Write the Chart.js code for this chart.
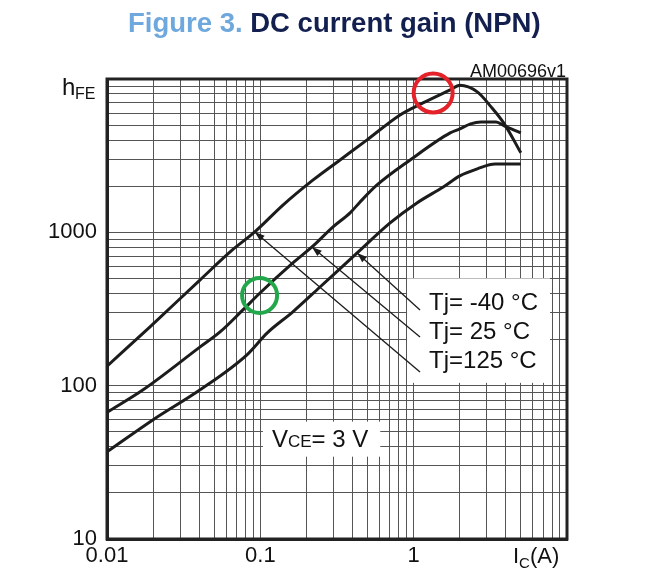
<!DOCTYPE html>
<html>
<head>
<meta charset="utf-8">
<script src="https://cdn.jsdelivr.net/npm/chart.js@4.4.0/dist/chart.umd.min.js"></script>
<style>
html, body { margin: 0; padding: 0; background: #fff; }
#wrap { position: relative; width: 654px; height: 580px; }
#gainChart { position: absolute; left: 0; top: 0; }
#title { position: absolute; left: 128px; top: 8px; white-space: nowrap;
  font: bold 27.5px "Liberation Sans", Arial, sans-serif; line-height: 30px; }
#title .fig { color: #6fa8dc; }
#title .txt { color: #13204f; }
</style>
</head>
<body>
<div id="wrap">
  <canvas id="gainChart" width="654" height="580"></canvas>
  <div id="title"><span class="fig">Figure 3.</span> <span class="txt">DC current gain (NPN)</span></div>
</div>
<script>
// Tj = 125 °C (upper curve)
const icHot  = [0.01, 0.019, 0.0405, 0.066, 0.092, 0.141, 0.221, 0.331, 0.497, 0.815, 1.15, 1.73, 2.0, 2.6, 3.2, 3.9, 5.0];
const hfeHot = [134, 241, 490, 770, 1006, 1510, 2197, 2966, 4010, 5830, 6980, 8490, 9100, 8240, 6580, 5100, 3300];
// Tj = 25 °C (middle curve)
const icRoom  = [0.01, 0.0172, 0.0405, 0.0546, 0.077, 0.0995, 0.163, 0.221, 0.298, 0.385, 0.447, 0.577, 0.949, 1.73, 2.0, 2.35, 2.75, 3.45, 3.9, 5.0];
const hfeRoom = [67, 94, 179, 224, 312, 402, 631, 815, 1085, 1339, 1578, 2037, 2966, 4450, 4730, 5100, 5250, 5250, 4950, 4450];
// Tj = -40 °C (lower curve)
const icCold  = [0.01, 0.020, 0.0405, 0.0818, 0.111, 0.163, 0.245, 0.428, 0.702, 1.05, 1.56, 2.0, 2.6, 3.4, 5.0];
const hfeCold = [37, 60, 94, 159, 221, 303, 440, 734, 1152, 1555, 1977, 2335, 2596, 2790, 2790];

const xTickLabels = ['0.01', '0.1', '1'];
const yTickLabels = ['10', '100', '1000'];
const tempLabels = ['Tj= -40 \u00B0C', 'Tj= 25 \u00B0C', 'Tj=125 \u00B0C'];

// where the arrows of each label touch its curve (-40, 25, 125)
const arrowTips = [[0.428, 734], [0.217, 803], [0.092, 1006]];
const arrowTails = [[1.10, 312], [1.10, 208], [1.10, 123]];
const labelAnchor = { x: 1.26, y: [344, 222, 143] };
const vceAnchor = { x: 0.119, y: 40 };
const circles = [
  { x: 1.34, y: 8110, r: 19.5, color: '#e4222a' },
  { x: 0.0989, y: 387, r: 17.5, color: '#22a84a' }
];

const FONT = '"Liberation Sans", Arial, sans-serif';

function logTicks(min, max) {
  const t = [];
  for (let d = min; d < max * 0.999; d *= 10)
    for (let m = 1; m < 10; m++) t.push(+(d * m).toPrecision(3));
  t.push(max);
  return t;
}

function toPts(xs, ys) {
  return xs.map((v, i) => ({ x: v, y: ys[i] }));
}

const curve = (data) => ({
  data: data,
  borderColor: '#1c1c1c',
  borderWidth: 3,
  pointRadius: 0,
  fill: false,
  cubicInterpolationMode: 'monotone'
});

function arrow(ctx, x1, y1, x2, y2) {
  const a = Math.atan2(y2 - y1, x2 - x1);
  ctx.beginPath();
  ctx.moveTo(x1, y1);
  ctx.lineTo(x2, y2);
  ctx.stroke();
  ctx.beginPath();
  ctx.moveTo(x2, y2);
  ctx.lineTo(x2 - 10 * Math.cos(a) + 3.5 * Math.sin(a), y2 - 10 * Math.sin(a) - 3.5 * Math.cos(a));
  ctx.lineTo(x2 - 10 * Math.cos(a) - 3.5 * Math.sin(a), y2 - 10 * Math.sin(a) + 3.5 * Math.cos(a));
  ctx.closePath();
  ctx.fill();
}

const notes = {
  id: 'notes',
  beforeDatasetsDraw(chart) {
    const { ctx, chartArea: ca, scales: { x, y } } = chart;
    ctx.save();
    ctx.textBaseline = 'middle';
    ctx.fillStyle = '#111';

    // frame of the plot
    ctx.strokeStyle = '#222';
    ctx.lineWidth = 3;
    ctx.strokeRect(ca.left, ca.top, ca.right - ca.left, ca.bottom - ca.top);

    // temperature label box
    ctx.font = '24px ' + FONT;
    const lx = x.getPixelForValue(labelAnchor.x);
    const ly = labelAnchor.y.map(v => y.getPixelForValue(v));
    const w = Math.max(...tempLabels.map(t => ctx.measureText(t).width));
    ctx.fillStyle = '#fff';
    ctx.fillRect(lx - 22, ly[0] - 25, w + 34, ly[2] - ly[0] + 46);
    ctx.fillStyle = '#111';
    tempLabels.forEach((t, i) => ctx.fillText(t, lx, ly[i]));

    // VCE box
    const vx = x.getPixelForValue(vceAnchor.x);
    const vy = y.getPixelForValue(vceAnchor.y);
    ctx.textBaseline = 'alphabetic';
    ctx.font = '24px ' + FONT;
    const wV = ctx.measureText('V').width;
    const wEq = ctx.measureText('= 3 V').width;
    ctx.font = '17px ' + FONT;
    const wCE = ctx.measureText('CE').width;
    ctx.fillStyle = '#fff';
    ctx.fillRect(vx - 9, vy - 25, wV + wCE + wEq + 21, 35);
    ctx.fillStyle = '#111';
    ctx.font = '24px ' + FONT;
    ctx.fillText('V', vx, vy);
    ctx.fillText('= 3 V', vx + wV + wCE, vy);
    ctx.font = '17px ' + FONT;
    ctx.fillText('CE', vx + wV, vy);
    ctx.restore();
  },
  afterDatasetsDraw(chart) {
    const { ctx, chartArea: ca, scales: { x, y } } = chart;
    ctx.save();
    ctx.strokeStyle = '#1c1c1c';
    ctx.fillStyle = '#1c1c1c';
    ctx.lineWidth = 1.3;
    arrowTips.forEach((tip, i) => {
      arrow(ctx, x.getPixelForValue(arrowTails[i][0]), y.getPixelForValue(arrowTails[i][1]),
        x.getPixelForValue(tip[0]), y.getPixelForValue(tip[1]));
    });

    circles.forEach(c => {
      ctx.beginPath();
      ctx.strokeStyle = c.color;
      ctx.lineWidth = 4;
      ctx.arc(x.getPixelForValue(c.x), y.getPixelForValue(c.y), c.r, 0, Math.PI * 2);
      ctx.stroke();
    });

    // axis names and figure code
    ctx.fillStyle = '#111';
    ctx.textBaseline = 'alphabetic';
    ctx.font = '24px ' + FONT;
    ctx.fillText('h', ca.left - 45, ca.top + 16);
    ctx.font = '16px ' + FONT;
    ctx.fillText('FE', ca.left - 32, ca.top + 20);

    ctx.font = '22px ' + FONT;
    const ix = ca.right - 54;
    ctx.fillText('I', ix, 563);
    const wI = ctx.measureText('I').width;
    ctx.font = '15px ' + FONT;
    ctx.fillText('C', ix + wI, 568);
    const wC = ctx.measureText('C').width;
    ctx.font = '22px ' + FONT;
    ctx.fillText('(A)', ix + wI + wC, 563);

    ctx.font = '18px ' + FONT;
    ctx.textAlign = 'right';
    ctx.fillText('AM00696v1', ca.right - 1, ca.top - 2);
    ctx.restore();
  }
};

const ctx = document.getElementById('gainChart').getContext('2d');
const gainChart = new Chart(ctx, {
  type: 'line',
  data: {
    datasets: [
      curve(toPts(icHot, hfeHot)),
      curve(toPts(icRoom, hfeRoom)),
      curve(toPts(icCold, hfeCold))
    ]
  },
  options: {
    responsive: false,
    animation: false,
    layout: { padding: { top: 79, right: 87, left: 0, bottom: 0 } },
    plugins: { legend: { display: false }, tooltip: { enabled: false } },
    scales: {
      x: {
        type: 'logarithmic',
        min: 0.01,
        max: 10,
        afterBuildTicks: s => { s.ticks = logTicks(0.01, 10).map(v => ({ value: v })); },
        afterFit: s => { s.height = 41; },
        grid: { color: '#555', lineWidth: 1, drawTicks: false },
        border: { color: '#222', width: 3 },
        ticks: {
          autoSkip: false, maxRotation: 0, padding: 4, color: '#111',
          font: { family: FONT, size: 22 },
          callback: v => xTickLabels.includes(String(v)) ? String(v) : ''
        }
      },
      y: {
        type: 'logarithmic',
        min: 10,
        max: 10000,
        afterBuildTicks: s => { s.ticks = logTicks(10, 10000).map(v => ({ value: v })); },
        afterFit: s => { s.width = 107; },
        grid: { color: '#555', lineWidth: 1, drawTicks: false },
        border: { color: '#222', width: 3 },
        ticks: {
          autoSkip: false, padding: 10, color: '#111',
          font: { family: FONT, size: 22 },
          callback: v => yTickLabels.includes(String(v)) ? String(v) : ''
        }
      }
    }
  },
  plugins: [notes]
});
</script>
</body>
</html>
